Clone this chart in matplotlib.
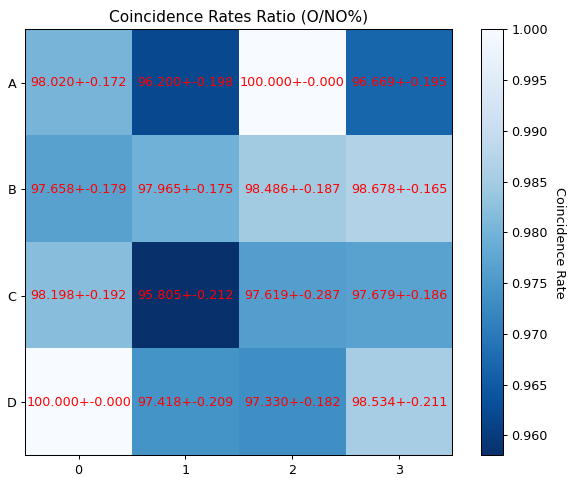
import numpy as np
import matplotlib
matplotlib.use("Agg")
import matplotlib.pyplot as plt

rows = ["A", "B", "C", "D"]
cols = ["0", "1", "2", "3"]
rates = np.array([
    [98.020, 96.200, 100.000, 96.669],
    [97.658, 97.965, 98.486, 98.678],
    [98.198, 95.805, 97.619, 97.679],
    [100.000, 97.418, 97.330, 98.534],
])
errors = np.array([
    [0.172, 0.198, 0.000, 0.195],
    [0.179, 0.175, 0.187, 0.165],
    [0.192, 0.212, 0.287, 0.186],
    [0.000, 0.209, 0.182, 0.211],
])

# lower dpi so everything comes out a bit smaller, like the original
dpi = 92
fig = plt.figure(figsize=(568 / dpi, 478 / dpi), dpi=dpi)
ax = fig.add_axes([0.0445, 0.0475, 0.752, 0.891])
cax = fig.add_axes([0.846, 0.0475, 0.0387, 0.891])

im = ax.imshow(rates / 100, cmap="Blues_r", aspect="auto")
cb = fig.colorbar(im, cax=cax)
cb.set_label("Coincidence Rate", rotation=270, labelpad=14)

for i in range(len(rows)):
    for j in range(len(cols)):
        ax.text(j, i, f"{rates[i, j]:.3f}+-{errors[i, j]:.3f}",
                ha="center", va="center", color="red", fontsize=10)

ax.set_xticks(range(len(cols)))
ax.set_xticklabels(cols)
ax.set_yticks(range(len(rows)))
ax.set_yticklabels(rows)
ax.set_title("Coincidence Rates Ratio (O/NO%)")

fig.savefig("out.png", dpi=dpi)
